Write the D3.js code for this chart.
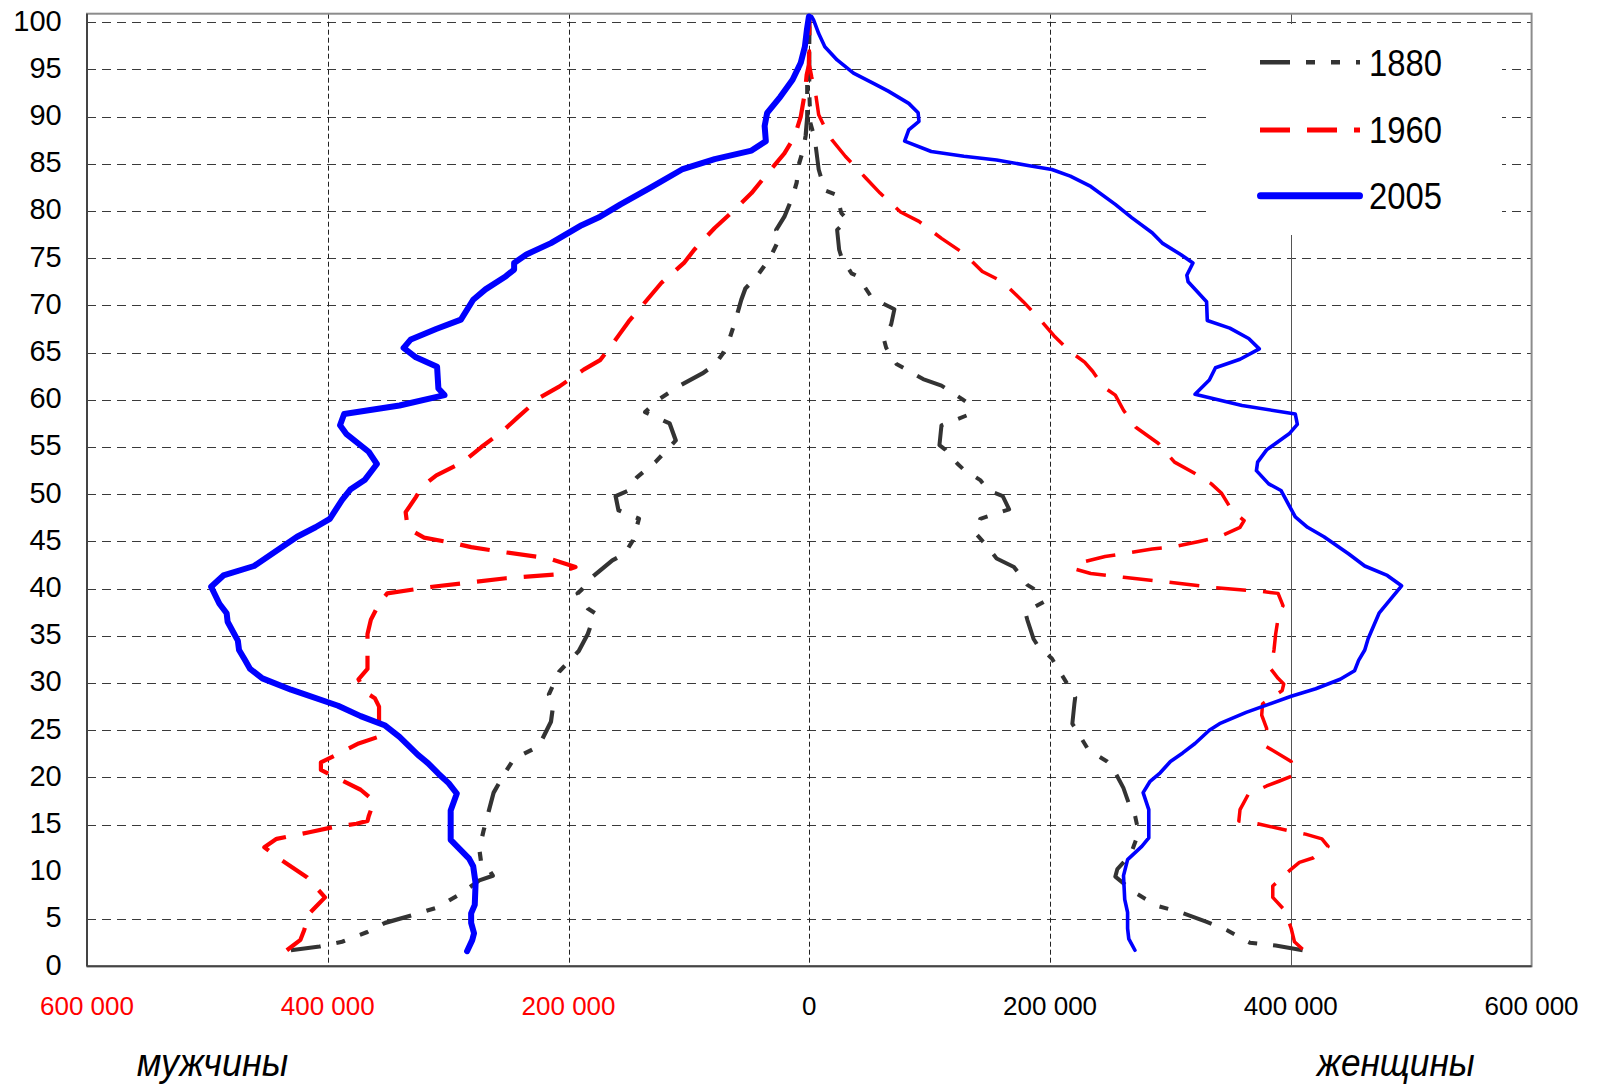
<!DOCTYPE html>
<html><head><meta charset="utf-8">
<script src="https://cdn.jsdelivr.net/npm/d3@7"></script>
<style>body{margin:0;background:#fff;}svg{display:block;font-family:Arial,"Liberation Sans",sans-serif;}</style>
</head><body><svg id="c" width="1597" height="1086"></svg>
<script>
// ---------------- DATA ----------------
const ageTicks = [0,5,10,15,20,25,30,35,40,45,50,55,60,65,70,75,80,85,90,95,100];
const gridAges = [5,15,20,25,30,35,40,45,50,55,60,65,70,75,80,85,90,95,100];
const xTickValues = [-600000,-400000,-200000,0,200000,400000,600000];
const xTickLabels = ["600 000","400 000","200 000","0","200 000","400 000","600 000"];
const years = ["1880","1960","2005"];
const sideLabels = ["мужчины","женщины"];

// 1880 — men (left) / women (right)
const ages1880M = [1.7,2.1,2.6,3.6,4.6,5.4,6.2,7.7,9.1,9.6,10.5,10.8,12.4,14.3,18.4,20.3,22.0,23.3,25.9,27.5,28.8,31.2,33.4,35.2,37.4,37.9,39.5,39.9,41.2,43.0,43.7,45.1,47.4,48.3,49.8,50.4,51.3,51.8,53.4,55.0,55.7,57.5,58.7,60.1,61.5,62.8,63.7,64.9,66.3,68.3,70.6,71.8,72.9,75.0,77.3,78.0,79.4,81.5,83.0,84.9,86.5,88.0,90.0,93.4,95.0,98.3,100.2];
const male1880 = [430600,406800,388100,367700,352300,330200,309800,289400,274100,262900,267300,272400,274100,270700,262200,253700,245200,224800,214600,212900,216300,207800,191500,184000,177900,184000,192500,189100,180600,163600,153400,146600,141500,158500,160900,150000,146600,143200,127900,116000,110900,116000,136400,124500,107500,88800,78600,71800,66700,61600,56500,53100,44600,32700,24100,27500,20700,13900,10500,8800,5000,3000,1700,1700,300,0,0];
const ages1880F = [1.7,2.2,2.5,3.8,4.7,5.8,6.4,7.8,9.5,10.3,11.0,11.9,13.6,14.7,16.6,17.0,18.9,20.1,21.3,21.7,22.9,25.0,25.7,27.8,28.5,29.4,30.1,32.6,34.0,34.7,36.7,37.5,38.6,40.0,40.4,42.3,43.2,44.6,45.8,47.4,48.4,49.8,50.4,51.5,52.6,53.2,54.7,55.2,57.3,58.4,59.7,60.1,61.5,62.2,63.8,65.5,66.3,68.0,69.6,70.8,73.1,73.4,75.2,75.9,78.0,79.1,79.8,81.7,82.2,84.4,86.8,88.2,89.3,92.5,100.4];
const female1880 = [409800,387400,366000,347400,330100,306400,289000,270500,254200,255900,261000,267100,272000,272700,269500,266100,260900,255900,250800,247400,232000,221900,218500,220200,220900,216800,213400,201500,189600,186200,181100,179400,194700,186200,181100,170000,155600,147100,138600,142000,166000,160700,148800,142000,128400,123300,113200,108100,109800,131800,131200,126700,109800,94500,72400,63900,62200,68000,70700,52000,40100,35000,26500,24800,23100,31600,26500,23100,12900,7800,5400,3400,1000,0,0];

// 1960
const ages1960M = [1.7,2.8,3.8,5.6,6.5,7.3,9.4,11.3,12.6,13.5,14.2,14.8,15.1,15.4,15.9,17.5,18.7,20.0,20.8,21.6,22.6,23.6,24.3,25.0,27.5,28.4,29.0,30.4,31.5,32.4,35.2,36.7,38.4,39.5,40.2,41.1,41.5,42.3,43.2,43.9,44.4,44.8,45.4,46.4,48.1,49.7,50.8,52.0,53.4,55.0,56.8,58.2,60.3,61.4,63.2,64.2,65.6,66.8,68.3,70.6,72.4,74.5,75.9,78.2,79.8,81.9,83.5,86.1,87.9,90.0,92.5,94.4,95.5,100.4];
const male1960 = [434000,422700,419700,415300,408500,402300,417000,439100,452700,442500,415300,393200,376200,367000,366000,361500,372700,393200,405700,405700,389800,374400,358100,357400,357400,360900,368300,374500,367000,367000,367000,364200,357400,350600,313200,252000,211200,194200,216300,255400,280900,294500,320000,333600,335300,326800,321700,309800,287700,272400,253700,241800,223100,207800,187400,173800,165300,158500,150000,134700,122800,104100,95600,78600,65000,48000,37800,20700,12200,7100,3700,2200,300,0];
const ages1960F = [1.8,2.6,4.0,5.9,7.3,8.5,10.1,11.0,11.5,12.7,13.5,14.0,14.4,15.1,15.4,16.6,18.2,19.1,19.6,20.3,21.7,23.3,25.2,26.6,27.8,29.2,29.9,30.5,31.5,33.5,35.2,37.4,38.2,39.5,39.7,40.1,40.7,41.2,41.6,42.1,42.7,43.4,44.2,44.4,45.0,45.5,46.5,47.2,48.3,50.1,51.1,52.2,53.4,55.4,57.1,58.9,60.5,61.4,63.0,64.0,65.1,66.8,68.8,70.4,72.5,73.6,75.5,77.1,78.9,79.9,81.9,83.5,85.8,87.5,88.4,90.2,92.3,94.2,95.5,100.4];
const female1960 = [409800,403000,400300,395200,385000,385000,398600,407100,418900,430900,425800,412200,396900,372400,356800,357800,364600,379900,390100,403700,400300,379200,379900,375800,376500,392800,394100,389400,383300,386000,387400,390100,393500,389400,376500,337400,298300,261000,233800,220200,223600,245700,284800,301700,323800,340800,357800,361200,351000,342500,334000,320400,303400,289800,271200,261000,254200,244000,235500,228700,216800,203200,189600,177700,160700,143700,128400,109800,91100,75800,58800,46900,29900,19000,14600,7800,5400,2000,0,0];

// 2005
const ages2005M = [1.6,2.8,3.5,4.6,5.6,6.5,8.8,10.6,11.4,13.4,16.5,18.3,19.4,20.4,21.5,22.4,24.3,25.5,26.5,27.6,29.3,30.5,31.5,32.5,33.5,34.5,36.5,37.4,38.4,40.2,41.4,42.4,45.5,46.5,47.4,49.4,50.5,51.5,53.2,54.5,56.4,57.3,58.5,59.4,60.5,61.2,63.5,64.5,65.5,66.4,67.5,68.5,70.6,71.7,73.1,73.8,74.5,75.4,76.6,78.5,79.4,80.7,82.4,84.4,85.5,86.4,87.4,89.0,90.4,92.1,93.9,95.7,97.4,99.2,100.6];
const male2005 = [284300,279900,278500,280900,280900,277900,277200,279200,282600,297900,297900,292800,299600,308100,316600,325100,340400,352300,372700,391400,430500,454300,464500,469000,473700,474700,483200,484000,490000,496900,486700,461200,425500,410200,398300,388100,381300,369400,359200,366000,384700,389800,386400,340400,303000,308100,309200,326800,337000,331000,310000,289400,279200,269000,252000,245200,245200,235000,214600,189100,173800,156800,133000,105800,78600,48000,36100,37100,35000,24100,13900,7100,3700,2000,300];
const ages2005F = [1.7,2.9,4.0,5.7,7.1,9.6,11.3,12.7,13.6,16.6,18.4,19.6,20.5,21.7,22.6,23.6,25.0,25.7,26.9,28.6,29.4,30.4,31.3,32.4,33.5,34.7,37.4,40.3,41.4,42.4,43.7,45.5,46.5,47.6,48.8,50.4,51.1,52.5,53.4,54.7,56.4,57.4,58.5,59.4,60.6,62.1,63.4,64.3,65.4,66.5,67.6,68.4,70.4,72.5,73.2,74.5,75.4,76.6,77.7,79.3,80.7,82.6,83.7,84.4,84.8,85.4,85.8,86.3,87.4,88.6,89.5,90.4,91.4,92.7,93.5,94.6,96.0,97.4,98.8,100.2,100.6];
const female2005 = [270500,265400,264400,264400,262000,261000,264400,276200,282000,282000,277300,283100,291500,300000,310200,320400,332300,340800,362900,400300,420700,441000,452900,456300,461400,464200,473300,492000,480100,461400,447900,427500,413900,403700,398600,391800,381600,371400,372400,379900,398600,405400,403700,359500,320400,332300,337400,357800,373800,365000,349300,330600,330000,314700,313600,318700,308500,293200,284800,267800,254200,233800,216800,201500,182800,155600,128400,101300,79200,82600,91100,90400,82600,65600,53700,36700,23100,12900,7800,3700,2000];

// ---------------- STYLE ----------------
const style = {
  "1880": {color:"#333333", dash:"30,16,9,16,9,16", wM:4.2, wF:4, legendW:4.5},
  "1960": {color:"#ff0000", dash:"30,17", wM:4.2, wF:3.5, legendW:5},
  "2005": {color:"#0000ff", dash:null, wM:6, wF:3.6, legendW:7}
};
const series = [
  {year:"1880", side:-1, ages:ages1880M, vals:male1880},
  {year:"1880", side: 1, ages:ages1880F, vals:female1880},
  {year:"1960", side:-1, ages:ages1960M, vals:male1960},
  {year:"1960", side: 1, ages:ages1960F, vals:female1960},
  {year:"2005", side:-1, ages:ages2005M, vals:male2005},
  {year:"2005", side: 1, ages:ages2005F, vals:female2005}
];

// ---------------- LAYOUT ----------------
const L = 87, R = 1531.6, T = 13.7, B = 966.3;
const svg = d3.select("#c");
const x = d3.scaleLinear().domain([-600000,600000]).range([L,R]);
const y = d3.scaleLinear().domain([0,100.9]).range([B,T]);

svg.append("rect").attr("width",1597).attr("height",1086).attr("fill","#fff");

// horizontal grid
svg.append("g").selectAll("line").data(gridAges).join("line")
  .attr("x1",L).attr("x2",R).attr("y1",d=>Math.round(y(d))+0.5).attr("y2",d=>Math.round(y(d))+0.5)
  .attr("stroke","#3a3a3a").attr("stroke-width",1).attr("stroke-dasharray","9,6");

// vertical grid
const vGrid = xTickValues.filter(v=>v>-600000 && v<600000);
svg.append("g").selectAll("line").data(vGrid).join("line")
  .attr("x1",d=>Math.round(x(d))+0.5).attr("x2",d=>Math.round(x(d))+0.5).attr("y1",T).attr("y2",B)
  .attr("stroke",d=>d===400000?"#555":"#222").attr("stroke-width",1)
  .attr("stroke-dasharray",d=>d===400000?null:"5,3");

// frame
svg.append("rect").attr("x",L).attr("y",T).attr("width",R-L).attr("height",B-T)
  .attr("fill","none").attr("stroke","#8c8c8c").attr("stroke-width",2);
svg.append("line").attr("x1",L).attr("x2",L).attr("y1",T).attr("y2",B).attr("stroke","#444").attr("stroke-width",2);
svg.append("line").attr("x1",L).attr("x2",R).attr("y1",B).attr("y2",B).attr("stroke","#444").attr("stroke-width",2);

// data lines
const line = d3.line().x(d=>x(d[0])).y(d=>y(d[1]));
series.forEach(s=>{
  const st = style[s.year];
  const pts = s.ages.map((a,i)=>[s.side*s.vals[i], a]);
  svg.append("path").datum(pts).attr("d",line)
    .attr("fill","none").attr("stroke",st.color)
    .attr("stroke-width", s.side<0?st.wM:st.wF)
    .attr("stroke-dasharray",st.dash)
    .attr("stroke-linejoin","round")
    .attr("stroke-linecap", st.dash?"butt":"round");
});

// legend
const lg = svg.append("g");
lg.append("rect").attr("x",1209).attr("y",24).attr("width",293).attr("height",211).attr("fill","#fff");
const legY = [62.3,130,195.7];
years.forEach((yr,i)=>{
  const st = style[yr];
  lg.append("line").attr("x1",yr==="2005"?1260.5:1260).attr("x2",yr==="2005"?1359.5:1360)
    .attr("y1",legY[i]).attr("y2",legY[i])
    .attr("stroke",st.color).attr("stroke-width",st.legendW)
    .attr("stroke-dasharray",st.dash).attr("stroke-linecap",st.dash?"butt":"round");
  lg.append("text").attr("x",1369).attr("y",legY[i]+13.4).text(yr)
    .attr("font-size",37).attr("fill","#000")
    .attr("textLength",73).attr("lengthAdjust","spacingAndGlyphs");
});

// y tick labels
svg.append("g").selectAll("text").data(ageTicks).join("text")
  .attr("x",61.7).attr("y",d=>y(d)+8.4).attr("text-anchor","end")
  .attr("font-size",29).attr("fill","#000").text(d=>d);

// x tick labels
svg.append("g").selectAll("text").data(xTickValues).join("text")
  .attr("x",d=>x(d)).attr("y",1015).attr("text-anchor","middle")
  .attr("font-size",26).attr("fill",d=>d<0?"#ff0000":"#000")
  .text((d,i)=>xTickLabels[i]);

// side labels
svg.append("text").attr("x",136.7).attr("y",1076).attr("font-size",38).attr("font-style","italic")
  .attr("textLength",151.5).attr("lengthAdjust","spacingAndGlyphs").text(sideLabels[0]);
svg.append("text").attr("x",1316.7).attr("y",1076).attr("font-size",38).attr("font-style","italic")
  .attr("textLength",158).attr("lengthAdjust","spacingAndGlyphs").text(sideLabels[1]);
</script></body></html>
